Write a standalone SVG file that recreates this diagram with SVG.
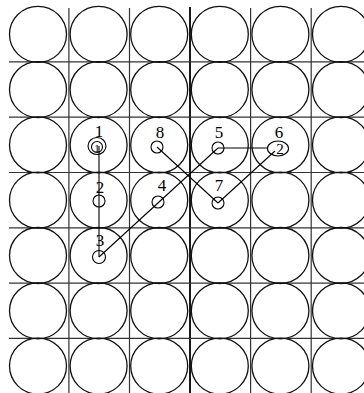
<svg xmlns="http://www.w3.org/2000/svg" width="364" height="393" viewBox="0 0 364 393">
<defs>
<style>
.bg{fill:#fff}
.grid{stroke:#333;stroke-width:1.2;fill:none}
.axis{stroke:#000;stroke-width:1.8;fill:none}
.big{fill:none;stroke:#111;stroke-width:1.3}
.small{fill:none;stroke:#000;stroke-width:1.1}
.conn{stroke:#000;stroke-width:1.1;fill:none}
.lbl{font-family:"Liberation Serif","DejaVu Serif",serif;font-size:17px;fill:#000;text-anchor:middle}
.in{font-family:"Liberation Serif","DejaVu Serif",serif;font-size:15px;fill:#000;text-anchor:middle}
</style>
<ellipse id="c" rx="28.5" ry="28" class="big"/>
</defs>
<rect class="bg" x="0" y="0" width="364" height="393"/>
<g id="grid">
<line class="grid" x1="68.9" y1="8" x2="68.9" y2="393"/>
<line class="grid" x1="129.5" y1="8" x2="129.5" y2="393"/>
<line class="axis" x1="190" y1="7" x2="190" y2="393"/>
<line class="grid" x1="250.6" y1="8" x2="250.6" y2="393"/>
<line class="grid" x1="311.2" y1="8" x2="311.2" y2="393"/>
<line class="grid" x1="9" y1="61.9" x2="364" y2="61.9"/>
<line class="grid" x1="9" y1="117.2" x2="364" y2="117.2"/>
<line class="grid" x1="9" y1="172.5" x2="364" y2="172.5"/>
<line class="grid" x1="9" y1="227.8" x2="364" y2="227.8"/>
<line class="grid" x1="9" y1="283.1" x2="364" y2="283.1"/>
<line class="grid" x1="9" y1="338.4" x2="364" y2="338.4"/>
</g>
<g id="circles">
<use href="#c" x="38" y="34.3"/><use href="#c" x="98.6" y="34.3"/><use href="#c" x="159.2" y="34.3"/><use href="#c" x="219.8" y="34.3"/><use href="#c" x="280.4" y="34.3"/><use href="#c" x="341" y="34.3"/>
<use href="#c" x="38" y="89.6"/><use href="#c" x="98.6" y="89.6"/><use href="#c" x="159.2" y="89.6"/><use href="#c" x="219.8" y="89.6"/><use href="#c" x="280.4" y="89.6"/><use href="#c" x="341" y="89.6"/>
<use href="#c" x="38" y="144.9"/><use href="#c" x="98.6" y="144.9"/><use href="#c" x="159.2" y="144.9"/><use href="#c" x="219.8" y="144.9"/><use href="#c" x="280.4" y="144.9"/><use href="#c" x="341" y="144.9"/>
<use href="#c" x="38" y="200.2"/><use href="#c" x="98.6" y="200.2"/><use href="#c" x="159.2" y="200.2"/><use href="#c" x="219.8" y="200.2"/><use href="#c" x="280.4" y="200.2"/><use href="#c" x="341" y="200.2"/>
<use href="#c" x="38" y="255.5"/><use href="#c" x="98.6" y="255.5"/><use href="#c" x="159.2" y="255.5"/><use href="#c" x="219.8" y="255.5"/><use href="#c" x="280.4" y="255.5"/><use href="#c" x="341" y="255.5"/>
<use href="#c" x="38" y="310.8"/><use href="#c" x="98.6" y="310.8"/><use href="#c" x="159.2" y="310.8"/><use href="#c" x="219.8" y="310.8"/><use href="#c" x="280.4" y="310.8"/><use href="#c" x="341" y="310.8"/>
<use href="#c" x="38" y="366.1"/><use href="#c" x="98.6" y="366.1"/><use href="#c" x="159.2" y="366.1"/><use href="#c" x="219.8" y="366.1"/><use href="#c" x="280.4" y="366.1"/><use href="#c" x="341" y="366.1"/>
</g>
<g id="connectors">
<line class="conn" x1="99" y1="146" x2="99" y2="257"/>
<line class="conn" x1="99" y1="257" x2="218" y2="148"/>
<line class="conn" x1="218" y1="148" x2="268" y2="148"/>
<line class="conn" x1="275" y1="151" x2="218" y2="203"/>
<line class="conn" x1="157" y1="147" x2="218" y2="203"/>
</g>
<g id="p1">
<ellipse class="small" cx="97" cy="146" rx="9" ry="8.5"/>
<circle class="small" cx="97" cy="147" r="5.5"/>
<text class="in" x="97" y="151.5" style="font-size:11px">1</text>
<text class="lbl" x="99" y="136.5">1</text>
</g>
<g id="p2">
<circle class="small" cx="99" cy="201" r="6"/>
<text class="lbl" x="100" y="193">2</text>
</g>
<g id="p3">
<circle class="small" cx="99" cy="257" r="6.5"/>
<text class="lbl" x="100" y="246">3</text>
</g>
<g id="p4">
<circle class="small" cx="158" cy="202" r="6"/>
<text class="lbl" x="162" y="191">4</text>
</g>
<g id="p5">
<circle class="small" cx="218" cy="148" r="6"/>
<text class="lbl" x="219" y="138">5</text>
</g>
<g id="p6">
<ellipse class="small" cx="278" cy="148.5" rx="10.5" ry="7.5"/>
<text class="in" x="280" y="154">2</text>
<text class="lbl" x="279" y="138">6</text>
</g>
<g id="p7">
<circle class="small" cx="218" cy="203" r="6"/>
<text class="lbl" x="219" y="191">7</text>
</g>
<g id="p8">
<circle class="small" cx="157" cy="147" r="6"/>
<text class="lbl" x="160" y="138">8</text>
</g>
</svg>
